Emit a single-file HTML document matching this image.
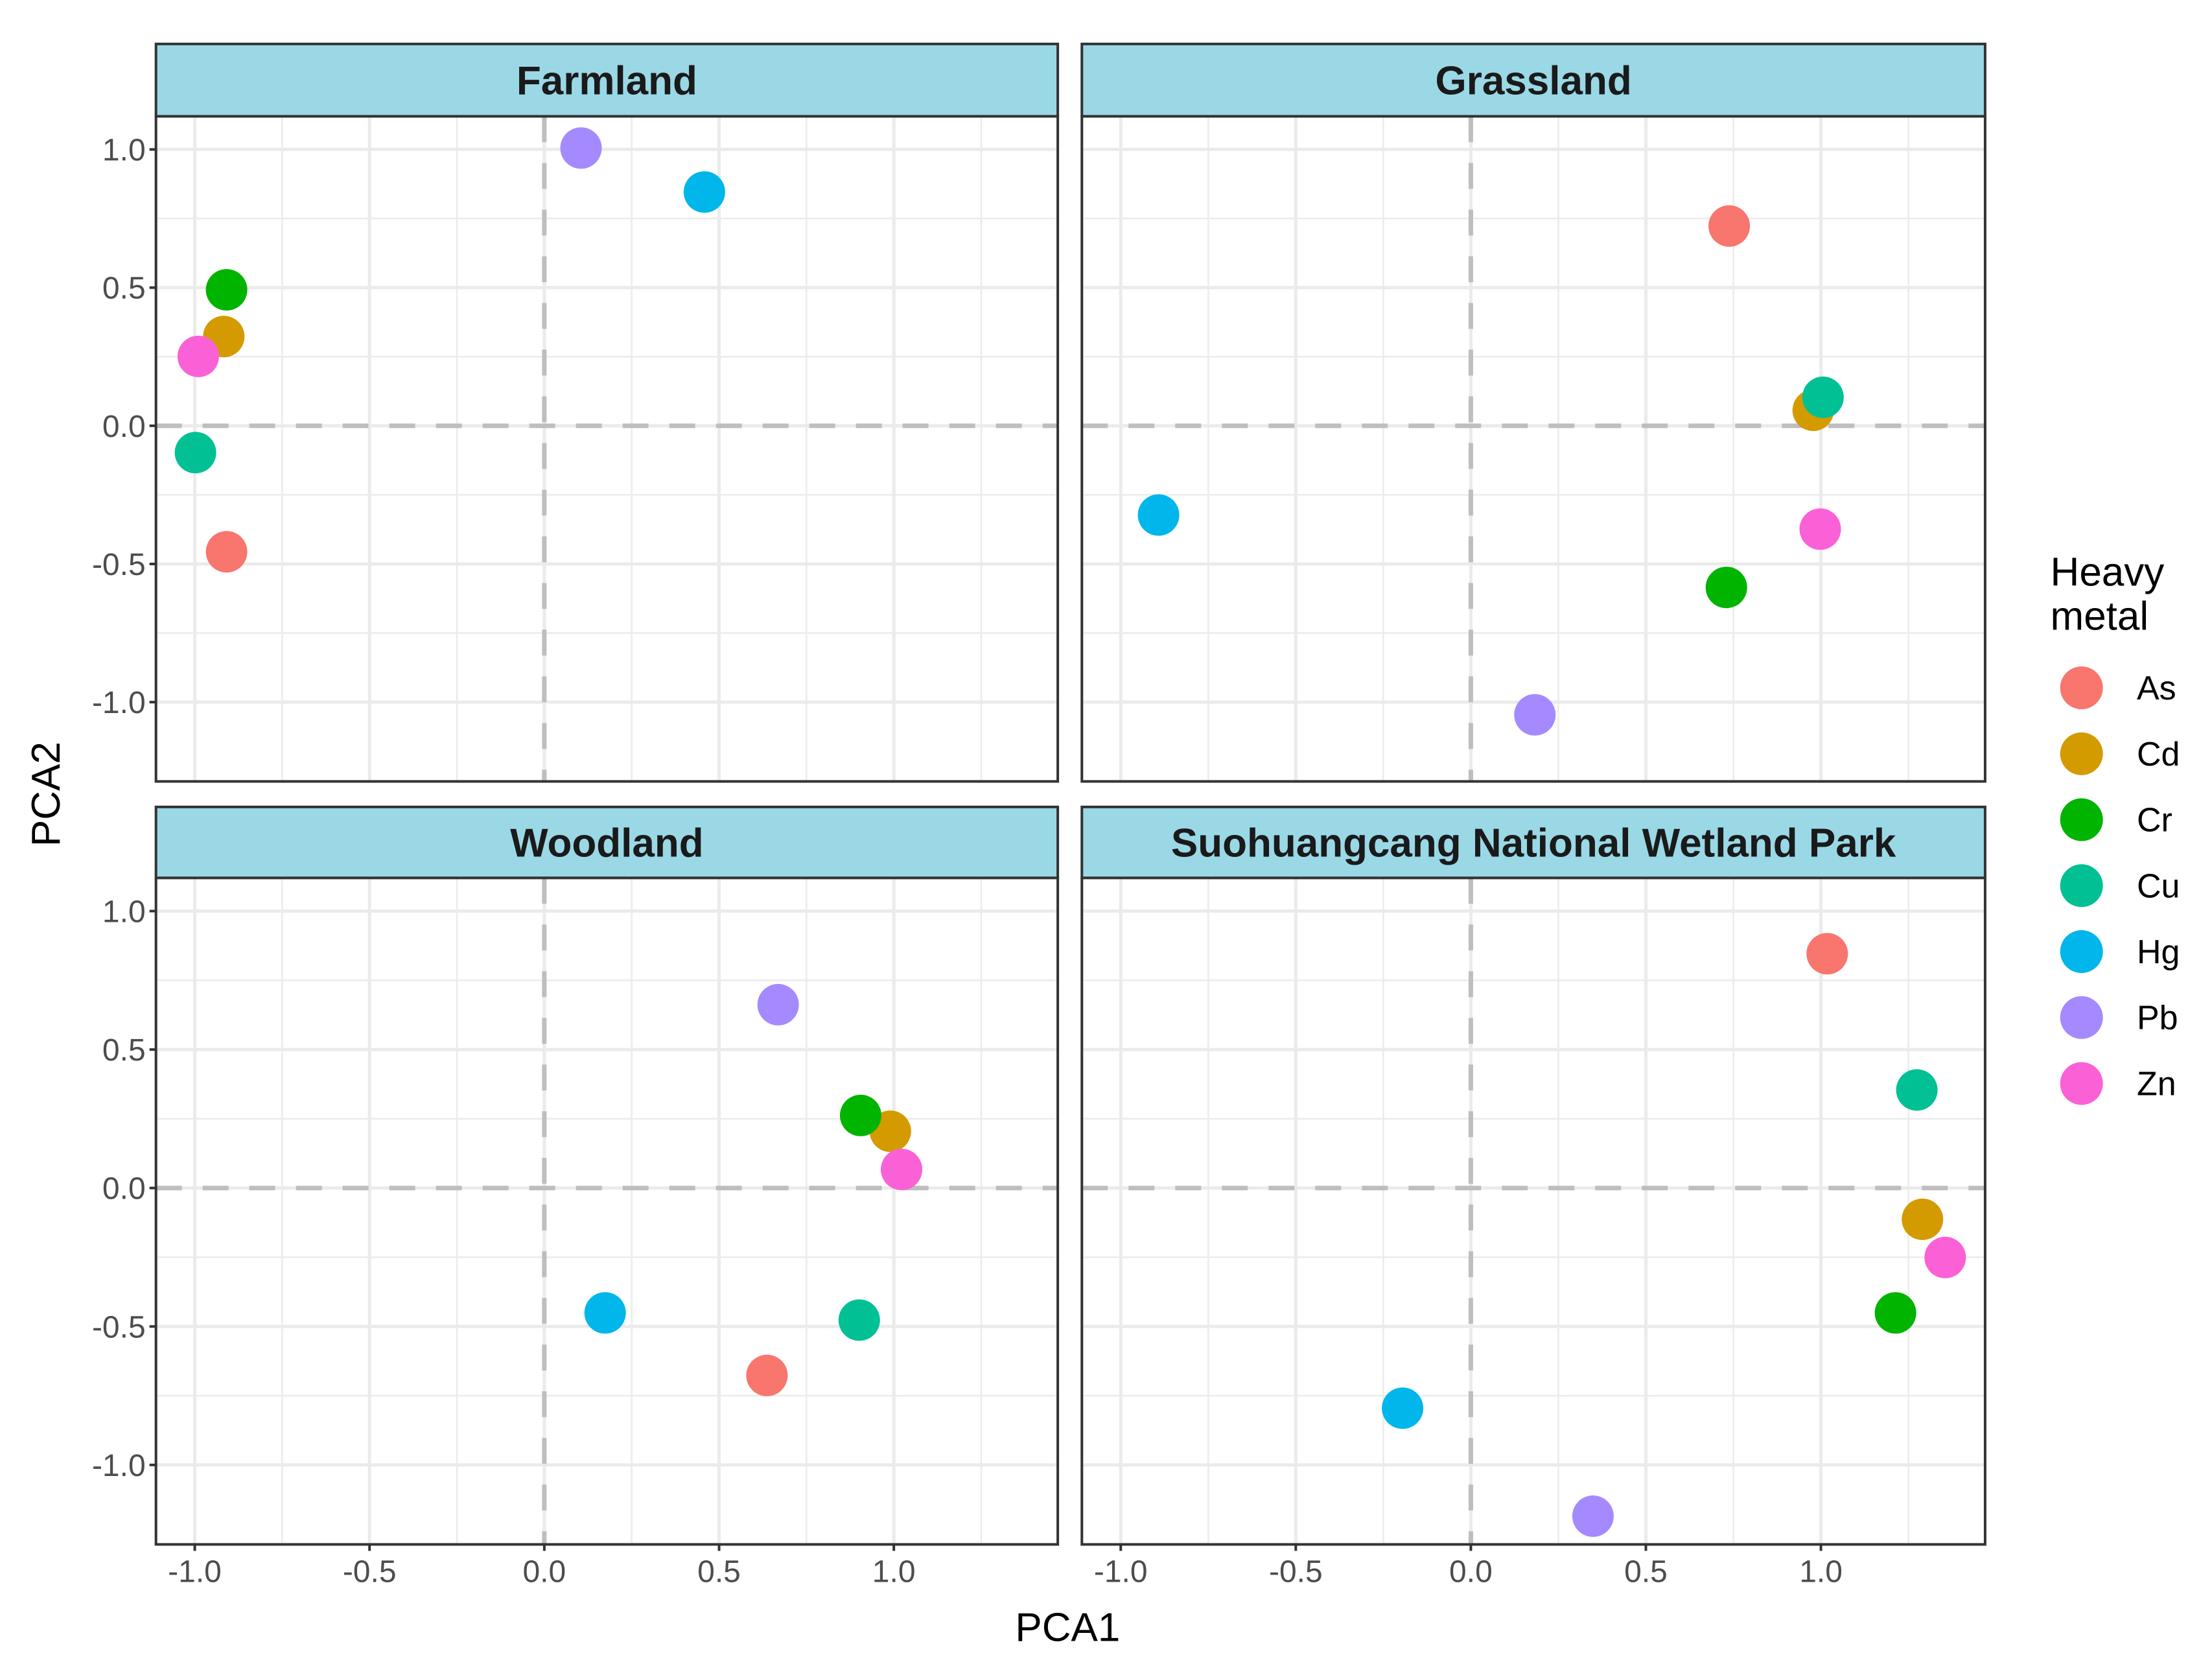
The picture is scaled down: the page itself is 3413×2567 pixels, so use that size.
<!DOCTYPE html>
<html><head><meta charset="utf-8"><style>body{margin:0;background:#fff}svg{display:block}text{font-family:"Liberation Sans",sans-serif}</style></head>
<body>
<svg id="c" width="3413" height="2567" viewBox="0 0 3413 2567" xmlns="http://www.w3.org/2000/svg"></svg>
<script>
const metals = ["As","Cd","Cr","Cu","Hg","Pb","Zn"];
const colors = ["#F8766D","#D39B00","#00B400","#00C094","#00B6EB","#A58AFF","#FB61D7"];
const panels = ["Farmland","Grassland","Woodland","Suohuangcang National Wetland Park"];
const pcaX = [
 [-0.909,-0.917,-0.909,-0.998,0.458,0.105,-0.990],
 [0.738,0.978,0.730,1.006,-0.892,0.183,0.998],
 [0.637,0.990,0.905,0.901,0.174,0.669,1.022],
 [1.018,1.290,1.213,1.274,-0.195,0.349,1.355]];
const pcaY = [
 [-0.456,0.323,0.492,-0.097,0.846,1.005,0.251],
 [0.723,0.056,-0.585,0.103,-0.323,-1.046,-0.374],
 [-0.677,0.205,0.262,-0.477,-0.451,0.662,0.067],
 [0.846,-0.113,-0.451,0.354,-0.795,-1.185,-0.251]];
const xTicks = [-1.0,-0.5,0.0,0.5,1.0];
const yTicks = [1.0,0.5,0.0,-0.5,-1.0];
const xMinor = [-0.75,-0.25,0.25,0.75,1.25];
const yMinor = [0.75,0.25,-0.25,-0.75];

const S=2.1878, NS="http://www.w3.org/2000/svg", svg=document.getElementById('c');
const xDom=[-1.111,1.469], yDom=[-1.287,1.12];
const cols=[[110*S,746*S],[763*S,1400*S]];
const rows=[[31*S,82*S,551*S],[569*S,619*S,1089*S]];
function mk(t,a,p){const e=document.createElementNS(NS,t);for(const k in a)e.setAttribute(k,a[k]);(p||svg).appendChild(e);return e;}
panels.forEach((name,pi)=>{
 const c=cols[pi%2], r=rows[Math.floor(pi/2)];
 const x0=c[0],x1=c[1],top=r[1],bot=r[2];
 const sx=v=>x0+(v-xDom[0])/(xDom[1]-xDom[0])*(x1-x0);
 const sy=v=>bot-(v-yDom[0])/(yDom[1]-yDom[0])*(bot-top);
 const g=mk('g',{});
 
 
 xMinor.forEach(v=>mk('line',{x1:sx(v),x2:sx(v),y1:top,y2:bot,stroke:'#ebebeb','stroke-width':2.5},g));
 yMinor.forEach(v=>mk('line',{x1:x0,x2:x1,y1:sy(v),y2:sy(v),stroke:'#ebebeb','stroke-width':2.5},g));
 xTicks.forEach(v=>mk('line',{x1:sx(v),x2:sx(v),y1:top,y2:bot,stroke:'#ebebeb','stroke-width':5},g));
 yTicks.forEach(v=>mk('line',{x1:x0,x2:x1,y1:sy(v),y2:sy(v),stroke:'#ebebeb','stroke-width':5},g));
 const hl=mk('line',{x1:x0,x2:x1,y1:sy(0),y2:sy(0),stroke:'#bebebe','stroke-width':7,'stroke-dasharray':'40 32'},g);
 
 const vl=mk('line',{x1:sx(0),x2:sx(0),y1:top,y2:bot,stroke:'#bebebe','stroke-width':7,'stroke-dasharray':'40 32'},g);
 
 metals.forEach((m,i)=>{
  const p=mk('circle',{cx:sx(pcaX[pi][i]),cy:sy(pcaY[pi][i]),r:32,fill:colors[i]},g);
  
  
 });
 mk('rect',{x:x0,y:top,width:x1-x0,height:bot-top,fill:'none',stroke:'#333','stroke-width':4},g);
 const st=mk('rect',{x:x0,y:r[0],width:x1-x0,height:top-r[0],fill:'#9AD8E6',stroke:'#333','stroke-width':4},g);
 
 const tt=mk('text',{x:(x0+x1)/2,y:(r[0]+top)/2+22,'text-anchor':'middle','font-size':62,'font-weight':'bold',fill:'#1a1a1a'},g);
 tt.textContent=name;
 
 if(pi%2==0){yTicks.forEach(v=>{
  mk('line',{x1:x0-10,x2:x0,y1:sy(v),y2:sy(v),stroke:'#333','stroke-width':4},g);
  const t=mk('text',{x:x0-16,y:sy(v)+17,'text-anchor':'end','font-size':48,fill:'#4d4d4d'},g);
  t.textContent=v.toFixed(1);
  
 });}
 if(pi>=2){xTicks.forEach(v=>{
  mk('line',{x1:sx(v),x2:sx(v),y1:bot,y2:bot+10,stroke:'#333','stroke-width':4},g);
  const t=mk('text',{x:sx(v),y:bot+58,'text-anchor':'middle','font-size':48,fill:'#4d4d4d'},g);
  t.textContent=v.toFixed(1);
  
 });}
});
const xt=mk('text',{x:753*S,y:1157*S,'text-anchor':'middle','font-size':62,fill:'#000'});
xt.textContent='PCA1';

const yt=mk('text',{x:0,y:0,'text-anchor':'middle','font-size':62,fill:'#000',transform:`translate(${42*S},${560*S}) rotate(-90)`});
yt.textContent='PCA2';

const lt1=mk('text',{x:1446*S,y:413*S,'font-size':62,fill:'#000'});lt1.textContent='Heavy';

const lt2=mk('text',{x:1446*S,y:444*S,'font-size':62,fill:'#000'});lt2.textContent='metal';

metals.forEach((m,i)=>{
 const cy=(485+46.5*i)*S;
 const k=mk('circle',{cx:1468*S,cy:cy,r:33,fill:colors[i]});
 
 
 const t=mk('text',{x:1507*S,y:cy+18,'font-size':52,fill:'#000'});
 t.textContent=m;
 
});
</script>
</body></html>
